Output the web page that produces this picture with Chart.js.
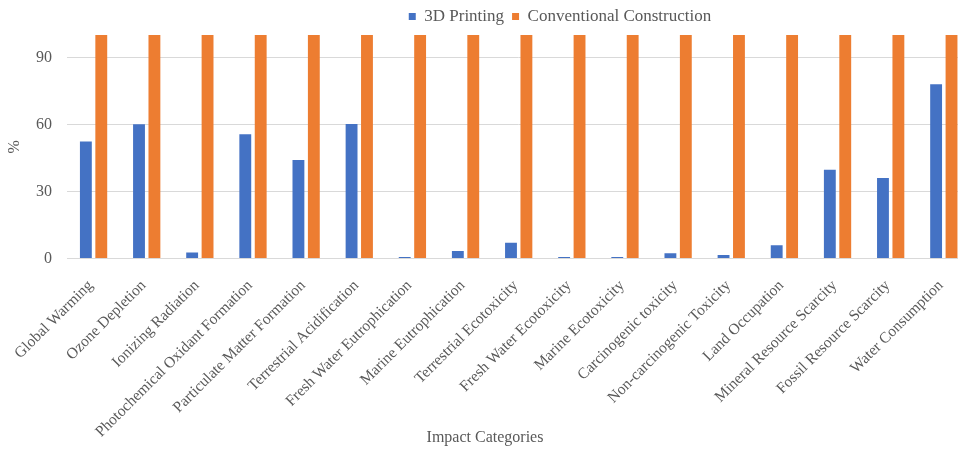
<!DOCTYPE html>
<html>
<head>
<meta charset="utf-8">
<script src="https://cdn.jsdelivr.net/npm/chart.js@4.4.1/dist/chart.umd.min.js"></script>
<style>
  html, body { margin: 0; padding: 0; overflow: hidden; background: #ffffff; }
  #wrap { position: relative; width: 975px; height: 454px; }
</style>
</head>
<body>
<div id="wrap"><canvas id="c"></canvas></div>
<script>
const categories = [
  "Global Warming", "Ozone Depletion", "Ionizing Radiation",
  "Photochemical Oxidant Formation", "Particulate Matter Formation",
  "Terrestrial Acidification", "Fresh Water Eutrophication",
  "Marine Eutrophication", "Terrestrial Ecotoxicity",
  "Fresh Water Ecotoxicity", "Marine Ecotoxicity", "Carcinogenic toxicity",
  "Non-carcinogenic Toxicity", "Land Occupation",
  "Mineral Resource Scarcity", "Fossil Resource Scarcity", "Water Consumption"
];
const printing3D = [52.3, 60.1, 2.7, 55.6, 44.1, 60.2, 0.7, 3.4, 7.1, 0.7, 0.7, 2.3, 1.6, 5.9, 39.7, 36.0, 78.0];
const conventional = [100, 100, 100, 100, 100, 100, 100, 100, 100, 100, 100, 100, 100, 100, 100, 100, 100];
const seriesNames = ["3D Printing", "Conventional Construction"];
const yTicks = [0, 30, 60, 90];
const yAxisTitle = "%";
const xAxisTitle = "Impact Categories";

const FONT = "'Liberation Serif', 'Times New Roman', serif";
const TXT = "#595959";

const shiftLegend = {
  id: 'shiftLegend',
  afterLayout(chart) {
    const lg = chart.legend;
    if (lg) { lg.left += 73; lg.right += 73; }
  }
};

// x-axis title, centred under the whole figure as in the reference
const xTitle = {
  id: 'xTitle',
  afterDraw(chart) {
    const ctx = chart.ctx;
    ctx.save();
    ctx.font = "16px " + FONT;
    ctx.fillStyle = TXT;
    ctx.textAlign = 'center';
    ctx.textBaseline = 'middle';
    ctx.fillText(xAxisTitle, 485, 438);
    ctx.restore();
  }
};

new Chart(document.getElementById('c'), {
  type: 'bar',
  data: {
    labels: categories,
    datasets: [
      { label: seriesNames[0], data: printing3D, backgroundColor: '#4472C4',
        barPercentage: 0.77, categoryPercentage: 0.58 },
      { label: seriesNames[1], data: conventional, backgroundColor: '#ED7D31',
        barPercentage: 0.77, categoryPercentage: 0.58 }
    ]
  },
  plugins: [shiftLegend, xTitle],
  options: {
    responsive: true,
    maintainAspectRatio: false,
    animation: false,
    layout: { padding: { top: 0, right: 1, bottom: 0, left: 0 } },
    plugins: {
      tooltip: { enabled: false },
      legend: {
        position: 'top',
        labels: {
          font: { family: FONT, size: 17 },
          color: TXT,
          boxWidth: 7, boxHeight: 7,
          padding: 8
        }
      },
      title: { display: false }
    },
    scales: {
      x: {
        grid: { display: false, drawTicks: false },
        border: { display: true, color: '#d9d9d9' },
        ticks: {
          autoSkip: false, maxRotation: 45, minRotation: 45,
          color: TXT, font: { family: FONT, size: 15.5 }, padding: 18, labelOffset: -3
        },
        afterFit(scale) { scale.height = 195.5; }
      },
      y: {
        min: 0, max: 100,
        afterBuildTicks(scale) { scale.ticks = yTicks.map(v => ({ value: v })); },
        grid: { color: '#d9d9d9', drawTicks: false },
        border: { display: false },
        ticks: { color: TXT, font: { family: FONT, size: 16 }, padding: 15 },
        title: {
          display: true, text: yAxisTitle, color: TXT,
          font: { family: FONT, size: 16 }, padding: { top: 5, bottom: 0 }
        },
        afterFit(scale) { scale.width = 67; }
      }
    }
  }
});
</script>
</body>
</html>
